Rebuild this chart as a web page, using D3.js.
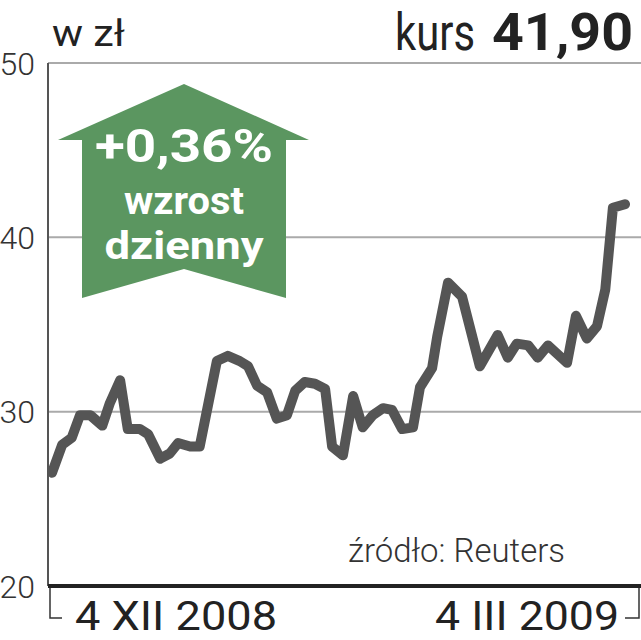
<!DOCTYPE html>
<html lang="pl">
<head>
  <meta charset="UTF-8">
  <title>kurs 41,90</title>
  <style>
    body {
      margin: 0;
      background: #fff;
      font-family: Roboto, "Liberation Sans", sans-serif;
    }
    svg {
      display: block;
    }
    .grid line {
      stroke: #aaa;
      stroke-width: 2;
    }
    .ylabel {
      font-size: 32px;
      font-weight: 300;
      fill: #333;
      text-anchor: end;
    }
    .xlabel {
      font-size: 40px;
      fill: #222;
    }
    .price {
      fill: none;
      stroke: #555;
      stroke-width: 10;
      stroke-linejoin: round;
      stroke-linecap: round;
    }
    .badge text {
      fill: #fff;
      font-weight: bold;
      text-anchor: middle;
    }
  </style>
  <script src="https://d3js.org/d3.v7.min.js"></script>
</head>
<body>
<div id="chart"></div>
<script>
// days counted from 4 XII 2008, closing price in zł
var days = [0, 1.6, 3.1, 4.4, 6.0, 7.9, 9.1, 10.7, 11.9, 13.8, 15.1, 17.0, 18.5, 19.8,
  21.7, 23.2, 25.9, 27.6, 29.5, 30.8, 32.2, 33.8, 35.3, 36.9, 38.2, 39.7, 41.3, 42.9,
  44.0, 45.7, 47.3, 48.8, 50.4, 52.0, 53.4, 55.0, 56.7, 57.8, 59.7, 60.5, 62.2, 64.4,
  67.2, 70.0, 71.6, 73.0, 74.8, 76.3, 77.9, 80.9, 82.3, 84.0, 85.6, 86.9, 88.1, 90.0];
var prices = [26.5, 28.1, 28.5, 29.8, 29.8, 29.2, 30.5, 31.8, 29.0, 29.0, 28.7, 27.3, 27.6, 28.2,
  28.0, 28.0, 32.9, 33.2, 32.9, 32.6, 31.5, 31.1, 29.6, 29.8, 31.2, 31.7, 31.6, 31.3,
  28.0, 27.5, 30.9, 29.1, 29.8, 30.2, 30.1, 29.0, 29.1, 31.4, 32.5, 34.3, 37.4, 36.6,
  32.6, 34.4, 33.1, 33.9, 33.8, 33.1, 33.8, 32.8, 35.5, 34.2, 34.9, 37.0, 41.7, 41.9];
var yTicks = [20, 30, 40, 50];
var xLabels = ["4 XII 2008", "4 III 2009"];
var lastPrice = "41,90";
var change = "+0,36%";

var width = 641, height = 640;

var svg = d3.select("#chart")
  .append("svg")
  .attr("width", width)
  .attr("height", height);

var x = d3.scaleLinear().domain([0, 90]).range([52, 625]);
var y = d3.scaleLinear().domain([20, 50]).range([586, 63]);
var left = 48, right = 641;

// gridlines
svg.append("g")
  .attr("class", "grid")
  .selectAll("line")
  .data(yTicks.filter(function (d) { return d > 20; }))
  .enter().append("line")
  .attr("x1", left)
  .attr("x2", right)
  .attr("y1", function (d) { return y(d); })
  .attr("y2", function (d) { return y(d); });

// y labels
svg.selectAll(".ylabel")
  .data(yTicks)
  .enter().append("text")
  .attr("class", "ylabel")
  .attr("x", 35)
  .attr("y", function (d) { return y(d); })
  .attr("dy", "0.36em")
  .text(function (d) { return d; });

// left axis
svg.append("line")
  .attr("x1", left).attr("x2", left)
  .attr("y1", y(50)).attr("y2", y(20))
  .attr("stroke", "#555")
  .attr("stroke-width", 2);

// arrow badge
var cx = 184;
var badge = svg.append("g").attr("class", "badge");
badge.append("path")
  .attr("d", "M" + cx + ",84 L309,140 L286,140 L286,298 L" + cx + ",269 L82,298 L82,140 L58,140 Z")
  .attr("fill", "#5b9660");
badge.append("text")
  .attr("x", cx).attr("y", 162)
  .attr("font-size", 46)
  .attr("textLength", 178)
  .attr("lengthAdjust", "spacingAndGlyphs")
  .text(change);
badge.append("text")
  .attr("x", cx).attr("y", 214)
  .attr("font-size", 38)
  .attr("textLength", 120)
  .attr("lengthAdjust", "spacingAndGlyphs")
  .text("wzrost");
badge.append("text")
  .attr("x", cx).attr("y", 259)
  .attr("font-size", 38)
  .attr("textLength", 159)
  .attr("lengthAdjust", "spacingAndGlyphs")
  .text("dzienny");

// price line
var line = d3.line()
  .x(function (d) { return x(d[0]); })
  .y(function (d) { return y(d[1]); });

svg.append("path")
  .attr("class", "price")
  .attr("d", line(d3.zip(days, prices)));

// baseline
svg.append("line")
  .attr("x1", left).attr("x2", right)
  .attr("y1", y(20)).attr("y2", y(20))
  .attr("stroke", "#222")
  .attr("stroke-width", 4);

// date brackets
svg.append("path")
  .attr("d", "M50," + (y(20) + 2) + " V618 H62")
  .attr("fill", "none").attr("stroke", "#333").attr("stroke-width", 1.5);
svg.append("path")
  .attr("d", "M639," + (y(20) + 2) + " V618 H625")
  .attr("fill", "none").attr("stroke", "#333").attr("stroke-width", 1.5);

svg.append("text")
  .attr("class", "xlabel")
  .attr("x", 75).attr("y", 630)
  .attr("textLength", 202)
  .attr("lengthAdjust", "spacingAndGlyphs")
  .text(xLabels[0]);
svg.append("text")
  .attr("class", "xlabel")
  .attr("x", 435).attr("y", 630)
  .attr("textLength", 184)
  .attr("lengthAdjust", "spacingAndGlyphs")
  .text(xLabels[1]);

// titles
svg.append("text")
  .attr("x", 52).attr("y", 46)
  .attr("font-size", 36)
  .attr("fill", "#222")
  .attr("textLength", 73)
  .attr("lengthAdjust", "spacingAndGlyphs")
  .text("w zł");
svg.append("text")
  .attr("x", 395).attr("y", 50)
  .attr("font-size", 52)
  .attr("fill", "#222")
  .attr("textLength", 80)
  .attr("lengthAdjust", "spacingAndGlyphs")
  .text("kurs");
svg.append("text")
  .attr("x", 492).attr("y", 50)
  .attr("font-size", 52)
  .attr("font-weight", "bold")
  .attr("fill", "#222")
  .attr("textLength", 141)
  .attr("lengthAdjust", "spacingAndGlyphs")
  .text(lastPrice);

// source
svg.append("text")
  .attr("x", 348).attr("y", 562)
  .attr("font-size", 33)
  .attr("font-weight", 300)
  .attr("fill", "#333")
  .attr("textLength", 217)
  .attr("lengthAdjust", "spacingAndGlyphs")
  .text("źródło: Reuters");
</script>
</body>
</html>
